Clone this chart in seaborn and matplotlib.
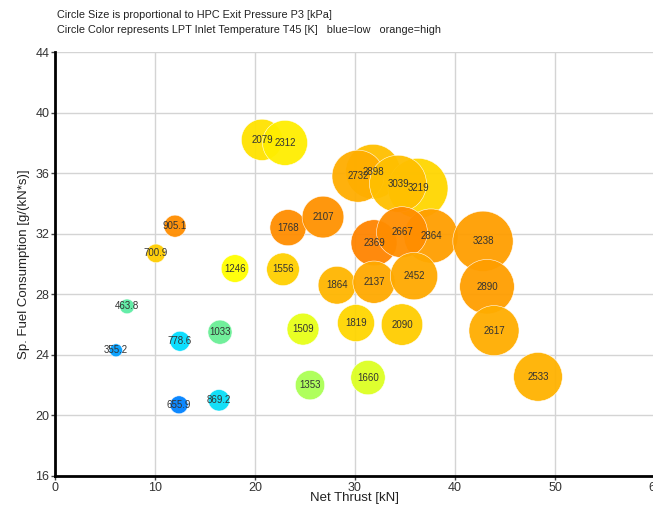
import numpy as np
import pandas as pd
import matplotlib
matplotlib.use("Agg")
import matplotlib.pyplot as plt
from matplotlib.colors import LinearSegmentedColormap
import seaborn as sns

# chart values
net_thrust = [6.1, 7.2, 10.1, 12.0, 18.0, 12.5, 16.5, 12.4, 16.4, 22.8,
              20.7, 23.0, 23.3, 26.8, 31.8, 30.3, 36.3, 34.3, 37.6, 31.9,
              34.7, 42.8, 28.2, 31.9, 35.9, 43.2, 24.8, 30.1, 34.7, 43.9,
              25.5, 31.3, 48.3]
sfc = [24.3, 27.2, 30.7, 32.5, 29.7, 24.9, 25.5, 20.7, 21.0, 29.65,
       38.2, 38.0, 32.4, 33.1, 36.1, 35.8, 35.0, 35.3, 31.85, 31.4,
       32.1, 31.5, 28.6, 28.8, 29.2, 28.5, 25.7, 26.1, 26.0, 25.6,
       22.0, 22.5, 22.55]
p3 = [355.2, 463.8, 700.9, 905.1, 1246, 778.6, 1033, 655.9, 869.2, 1556,
      2079, 2312, 1768, 2107, 2898, 2732, 3219, 3039, 2864, 2369,
      2667, 3238, 1864, 2137, 2452, 2890, 1509, 1819, 2090, 2617,
      1353, 1660, 2533]
t45 = [732, 828, 1032, 1088, 968, 768, 836, 716, 772, 1028,
       1004, 988, 1088, 1084, 1044, 1060, 1020, 1044, 1072, 1096,
       1088, 1072, 1052, 1064, 1064, 1072, 948, 1020, 1032, 1060,
       900, 940, 1056]

df = pd.DataFrame({"thrust": net_thrust, "sfc": sfc, "p3": p3, "t45": t45})

# radius in px grows linearly with P3 -> marker area in pt^2
px2pt = 72 / 100
sizes = {p: (2 * (3.6 + 0.0082 * p) * px2pt) ** 2 for p in p3}

cmap = LinearSegmentedColormap.from_list(
    "bo", ["#0066ff", "#00ddff", "#66ee99", "#aaff55", "#ffff00", "#ffcc00", "#ff8000"])

sns.set_style("white")
plt.rcParams["font.family"] = ["Liberation Sans", "DejaVu Sans"]

fig = plt.figure(figsize=(6.53, 5.11), dpi=100)
ax = fig.add_axes([55 / 653, 1 - 476 / 511, 600 / 653, (476 - 52) / 511])

sns.scatterplot(data=df, x="thrust", y="sfc", hue="t45", size="p3",
                sizes=sizes, palette=cmap, hue_norm=(700, 1100),
                edgecolor="#ffffff", linewidth=0.4, alpha=0.95,
                legend=False, ax=ax, zorder=3)

for _, r in df.iterrows():
    ax.text(r.thrust, r.sfc, f"{r.p3:g}", ha="center", va="center",
            fontsize=7, color="#333333", zorder=4)

ax.set_xlim(0, 60)
ax.set_ylim(16, 44)
ax.set_xticks(range(0, 61, 10))
ax.set_yticks(range(16, 45, 4))
ax.grid(True, color="#d4d4d4", linewidth=1, zorder=0)
ax.set_axisbelow(True)
for s in ["top", "right"]:
    ax.spines[s].set_visible(False)
for s in ["left", "bottom"]:
    ax.spines[s].set_color("black")
    ax.spines[s].set_linewidth(2)
ax.tick_params(axis="both", direction="out", length=3, width=1,
               color="#444444", labelcolor="#333333", labelsize=9, pad=1,
               left=True, bottom=True)
ax.set_xlabel("Net Thrust [kN]", fontsize=9.5, labelpad=-1, color="#222222")
ax.set_ylabel("Sp. Fuel Consumption [g/(kN*s)]", fontsize=9.5, labelpad=4,
              color="#222222")

fig.text(57 / 653, 1 - 15 / 511, "Circle Size is proportional to HPC Exit Pressure P3 [kPa]",
         fontsize=7.8, va="center", ha="left", color="#222222")
fig.text(57 / 653, 1 - 30 / 511,
         "Circle Color represents LPT Inlet Temperature T45 [K]   blue=low   orange=high",
         fontsize=7.8, va="center", ha="left", color="#222222")

fig.savefig("out.png", dpi=100)
